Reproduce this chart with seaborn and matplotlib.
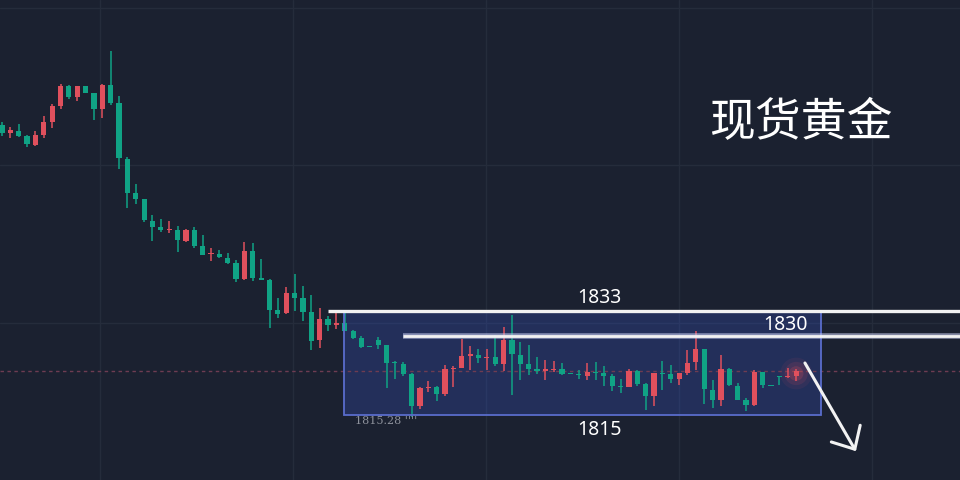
import numpy as np
import pandas as pd
import matplotlib
matplotlib.use("Agg")
import matplotlib.pyplot as plt
import seaborn as sns

# candle data (red = up, green = down, chinese convention)
opens = [1864.0, 1862.6, 1863.0, 1862.1, 1860.6, 1862.3, 1864.5, 1867.1, 1870.5, 1868.6,
         1870.5, 1869.3, 1866.6, 1870.6, 1867.6, 1858.3, 1852.6, 1851.6, 1848.0, 1847.0,
         1846.5, 1846.5, 1844.6, 1846.5, 1843.8, 1842.5, 1842.5, 1841.8, 1841.0, 1838.3,
         1843.0, 1838.5, 1838.1, 1833.1, 1832.6, 1836.0, 1835.1, 1832.8, 1828.1, 1831.6,
         1830.6, 1831.0, 1829.6, 1828.5, 1827.0, 1828.1, 1827.3, 1824.5, 1824.1, 1822.5,
         1817.1, 1820.1, 1820.3, 1819.1, 1823.3, 1823.5, 1825.5, 1825.6, 1825.1, 1825.3,
         1824.1, 1828.1, 1825.6, 1824.1, 1823.3, 1823.0, 1823.1, 1823.3, 1822.5, 1822.4,
         1822.1, 1822.8, 1822.6, 1822.1, 1820.5, 1820.3, 1823.0, 1820.8, 1818.8, 1822.6,
         1822.5, 1821.6, 1822.6, 1824.5, 1826.6, 1819.8, 1818.1, 1823.3, 1820.5, 1818.1,
         1817.3, 1822.8, 1820.6, 1822.0, 1821.9, 1822.1]
highs = [1864.5, 1863.6, 1864.1, 1862.3, 1863.0, 1865.5, 1867.5, 1870.8, 1870.6, 1870.5,
         1870.5, 1869.3, 1870.8, 1876.3, 1868.8, 1858.6, 1854.1, 1851.6, 1849.0, 1848.3,
         1848.0, 1847.1, 1846.6, 1847.0, 1845.6, 1843.5, 1843.1, 1842.6, 1841.5, 1844.5,
         1844.3, 1841.6, 1838.3, 1835.1, 1837.0, 1839.1, 1837.1, 1835.6, 1833.5, 1832.1,
         1832.8, 1832.8, 1829.8, 1828.8, 1827.0, 1828.6, 1827.3, 1824.6, 1824.5, 1822.6,
         1820.3, 1821.3, 1820.5, 1824.0, 1823.8, 1828.3, 1827.1, 1826.6, 1826.6, 1829.0,
         1830.3, 1832.3, 1827.8, 1827.3, 1825.3, 1824.8, 1824.6, 1824.3, 1822.5, 1823.1,
         1824.3, 1824.5, 1823.8, 1822.5, 1821.6, 1823.3, 1823.1, 1821.0, 1822.6, 1824.6,
         1824.0, 1822.6, 1826.5, 1829.6, 1826.6, 1821.5, 1825.6, 1823.5, 1821.0, 1818.5,
         1823.1, 1822.8, 1820.6, 1822.1, 1823.5, 1823.3]
lows = [1862.1, 1861.8, 1862.0, 1860.3, 1860.5, 1861.8, 1863.5, 1866.6, 1868.3, 1868.0,
        1869.3, 1864.8, 1865.1, 1867.3, 1856.6, 1850.1, 1850.8, 1847.8, 1844.6, 1846.1,
        1846.0, 1842.8, 1844.5, 1843.5, 1842.3, 1841.3, 1841.8, 1840.8, 1837.8, 1838.1,
        1838.0, 1838.1, 1830.1, 1831.8, 1832.5, 1833.0, 1831.3, 1826.5, 1826.8, 1829.6,
        1830.0, 1829.6, 1828.3, 1826.8, 1826.9, 1826.6, 1820.1, 1821.6, 1822.1, 1815.28,
        1816.6, 1819.5, 1818.0, 1818.8, 1820.3, 1823.5, 1823.1, 1824.3, 1823.1, 1823.8,
        1823.0, 1819.0, 1821.5, 1822.3, 1822.5, 1821.5, 1822.8, 1822.3, 1822.4, 1821.6,
        1821.5, 1821.5, 1820.5, 1819.6, 1819.3, 1820.3, 1820.5, 1816.5, 1817.1, 1819.8,
        1821.0, 1820.6, 1822.3, 1823.1, 1817.5, 1816.8, 1817.1, 1820.5, 1818.1, 1816.3,
        1817.1, 1820.1, 1820.5, 1820.6, 1821.8, 1821.3]
closes = [1862.6, 1863.1, 1862.1, 1860.8, 1862.3, 1864.5, 1867.1, 1870.5, 1868.6, 1870.5,
          1869.3, 1866.6, 1870.6, 1867.6, 1858.5, 1852.6, 1851.6, 1848.1, 1847.0, 1846.5,
          1846.6, 1844.8, 1846.5, 1843.8, 1842.3, 1842.6, 1842.0, 1841.0, 1838.3, 1843.0,
          1838.5, 1838.1, 1833.1, 1832.5, 1836.0, 1835.1, 1832.8, 1828.0, 1831.6, 1830.6,
          1831.0, 1829.6, 1828.5, 1827.0, 1826.9, 1827.3, 1824.3, 1824.3, 1822.5, 1817.1,
          1820.1, 1820.3, 1819.1, 1823.3, 1823.5, 1825.5, 1825.8, 1825.1, 1825.3, 1824.1,
          1828.1, 1825.8, 1824.1, 1823.3, 1823.0, 1823.3, 1823.3, 1822.5, 1822.4, 1822.3,
          1822.8, 1822.7, 1822.1, 1820.5, 1820.3, 1823.0, 1820.8, 1818.8, 1822.6, 1822.5,
          1821.6, 1822.6, 1824.3, 1826.6, 1820.0, 1818.1, 1823.3, 1820.6, 1818.1, 1817.3,
          1822.8, 1820.6, 1820.5, 1821.9, 1822.0, 1823.0]

title_text = "现货黄金"
level_top = 1833.0     # upper resistance line
level_mid = 1828.8     # line drawn under the "1830" label
box_low = 1815.6
level_labels = ["1833", "1830", "1815"]
low_label = "1815.28"
last_price = 1823.0

bg = "#1b2130"
up_col = "#e0505d"
down_col = "#10a385"

sns.set_theme(style="darkgrid", rc={
    "axes.facecolor": bg,
    "figure.facecolor": bg,
    "grid.color": "#252c3b",
    "grid.linewidth": 1.0,
})
plt.rcParams["font.family"] = ["Noto Sans CJK SC", "DejaVu Sans"]

df = pd.DataFrame({"open": opens, "high": highs, "low": lows, "close": closes})
df["x"] = np.arange(len(df))
df["up"] = df["close"] >= df["open"]
df["color"] = np.where(df["up"], up_col, down_col)
df["bottom"] = df[["open", "close"]].min(axis=1)
df["height"] = (df["close"] - df["open"]).abs().clip(lower=0.17)

fig = plt.figure(figsize=(9.6, 4.8), dpi=100)
ax = fig.add_axes([0, 0, 1, 1])

# grid lines through the tick positions
ax.set_xticks([11.72, 34.8, 57.9, 81.0, 104.1])
ax.set_yticks([1883.5, 1857.3, 1831.0])
ax.tick_params(labelbottom=False, labelleft=False, length=0)
for s in ax.spines.values():
    s.set_visible(False)

# the range box
ax.add_patch(plt.Rectangle((40.9, box_low), 57.1, level_top - box_low,
                           facecolor="#3b5bdb", alpha=0.25, edgecolor="none", zorder=1))
ax.add_patch(plt.Rectangle((40.9, box_low), 57.1, level_top - box_low,
                           facecolor="none", edgecolor="#5a6dcc", lw=1.3, zorder=4))

# price line
ax.axhline(last_price, color="#6e3c52", lw=1, ls=(0, (2.5, 2.5)), zorder=2)

# candles
ax.vlines(df["x"], df["low"], df["high"], colors=df["color"], lw=1.1, zorder=3)
ax.bar(df["x"], df["height"], bottom=df["bottom"], width=0.62,
       color=df["color"], edgecolor="none", zorder=3)

# glow on the last candle
last = df.iloc[-1]
for sz, a in [(520, 0.08), (280, 0.12), (110, 0.2)]:
    ax.scatter(last["x"], (last["open"] + last["close"]) / 2, s=sz,
               color=up_col, alpha=a, edgecolor="none", zorder=2)

# resistance lines
ax.hlines(level_top, 39.0, 115, color="#f2f2f2", lw=2.4, zorder=5)
ax.hlines(level_mid, 48.0, 115, color="#c8cdf0", lw=4.0, alpha=0.6, zorder=5)
ax.hlines(level_mid, 48.0, 115, color="#f2f2f2", lw=2.0, zorder=5)

ax.text(71.5, 1835.1, level_labels[0], color="white", fontsize=14,
        family="Noto Sans", ha="center", va="center", zorder=6)
ax.text(93.7, 1830.6, level_labels[1], color="white", fontsize=14,
        family="Noto Sans", ha="center", va="center", zorder=6)
ax.text(71.5, 1813.1, level_labels[2], color="white", fontsize=14,
        family="Noto Sans", ha="center", va="center", zorder=6)
ax.text(42.2, 1814.6, low_label + " ''''", color="#8d919b", fontsize=8,
        family="DejaVu Serif", ha="left", va="center", zorder=6)

ax.text(95.5, 1864.3, title_text, color="white", fontsize=33, fontweight="light",
        ha="center", va="center", zorder=6)

# down arrow
ax.annotate("", xy=(102.15, 1809.6), xytext=(96.05, 1824.3),
            arrowprops=dict(arrowstyle="->,head_length=0.65,head_width=0.6",
                            mutation_scale=20, color="#f2f2f2", lw=2.2,
                            shrinkA=0, shrinkB=0),
            zorder=6)

ax.set_xlim(-0.24, 114.6)
ax.set_ylim(1804.8, 1884.8)

fig.savefig("out.png", dpi=100, facecolor=bg)
